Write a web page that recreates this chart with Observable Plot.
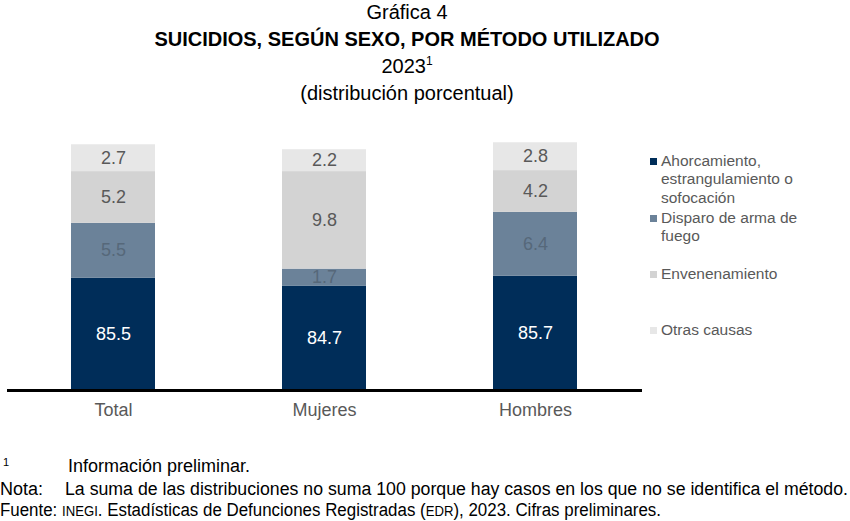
<!DOCTYPE html>
<html>
<head>
<meta charset="utf-8">
<script src="https://cdn.jsdelivr.net/npm/d3@7"></script>
<script src="https://cdn.jsdelivr.net/npm/@observablehq/plot@0.6"></script>
<style>
  html, body { margin: 0; padding: 0; background: #fff; }
  body { width: 850px; height: 521px; position: relative; overflow: hidden;
         font-family: "Liberation Sans", Arial, sans-serif; color: #000; }
  .t { position: absolute; left: 0; width: 814px; text-align: center; white-space: nowrap; }
  .leg { position: absolute; left: 650px; font-size: 15.5px; line-height: 18.3px; color: #595959; }
  .leg .sw { position: absolute; left: 0; top: 6px; width: 7px; height: 7px; }
  .leg .lb { position: absolute; left: 11px; white-space: nowrap; }
  .fn { position: absolute; left: 0; font-size: 18px; line-height: 20px; white-space: nowrap; color: #000; }
  .fit { display: inline-block; transform-origin: 0 50%; }
  #chart { position: absolute; left: 0; top: 120px; }
</style>
</head>
<body>
<div class="t" style="top:0px;font-size:20px;line-height:24px;">Gráfica 4</div>
<div class="t" style="top:27px;font-size:20px;line-height:24px;font-weight:bold;">SUICIDIOS, SEGÚN SEXO, POR MÉTODO UTILIZADO</div>
<div class="t" style="top:54px;font-size:20px;line-height:24px;">2023<sup style="font-size:12px;vertical-align:8px;line-height:0;">1</sup></div>
<div class="t" style="top:81px;font-size:20px;line-height:24px;">(distribución porcentual)</div>
<div id="chart"></div>
<div id="legend"></div>
<div class="fn" style="top:456px;"><span style="font-size:11px;position:absolute;left:3px;top:-4px;">1</span><span style="position:absolute;left:68px;">Información preliminar.</span></div>
<div class="fn" style="top:479px;">Nota:<span class="fit" id="fn2" style="position:absolute;left:65px;">La suma de las distribuciones no suma 100 porque hay casos en los que no se identifica el método.</span></div>
<div class="fn" style="top:500px;"><span class="fit" id="fn3">Fuente: <span style="font-size:14px;">INEGI</span>. Estadísticas de Defunciones Registradas (<span style="font-size:14px;">EDR</span>), 2023. Cifras preliminares.</span></div>
<script>
const categories = ["Total", "Mujeres", "Hombres"];
const methods = [
  "Ahorcamiento, estrangulamiento o sofocación",
  "Disparo de arma de fuego",
  "Envenenamiento",
  "Otras causas"
];
const ahorcamiento = [85.5, 84.7, 85.7];
const disparo = [5.5, 1.7, 6.4];
const envenenamiento = [5.2, 9.8, 4.2];
const otras = [2.7, 2.2, 2.8];

const colors = ["#002d59", "#6b8299", "#d3d3d3", "#e7e7e7"];
const labelColors = ["#ffffff", "#56687a", "#595959", "#595959"];
const legendLines = [
  ["Ahorcamiento,", "estrangulamiento o", "sofocación"],
  ["Disparo de arma de", "fuego"],
  ["Envenenamiento"],
  ["Otras causas"]
];
const legendTops = [152, 209, 265, 321];

const series = [ahorcamiento, disparo, envenenamiento, otras];
const yMin = 74.3;

const rows = [];
categories.forEach((c, i) => {
  let acc = 0;
  series.forEach((s, k) => {
    rows.push({sexo: c, metodo: methods[k], k, value: s[i], lo: acc, hi: acc + s[i]});
    acc += s[i];
  });
});

const chart = Plot.plot({
  width: 850,
  height: 320,
  marginTop: 13.3,
  marginBottom: 51,
  marginLeft: 7,
  marginRight: 208,
  style: {fontFamily: "'Liberation Sans', Arial, sans-serif", background: "#fff"},
  x: {domain: categories, paddingInner: 0.6, paddingOuter: 0.3, label: null},
  y: {domain: [yMin, 100], clamp: true, axis: null},
  color: {domain: methods, range: colors},
  marks: [
    Plot.barY(rows, {x: "sexo", y1: "lo", y2: "hi", fill: "metodo"}),
    Plot.text(rows, {
      x: "sexo",
      y: d => (Math.max(d.lo, yMin) + d.hi) / 2,
      text: d => d.value.toFixed(1),
      fill: d => labelColors[d.k],
      fontSize: 18
    }),
    Plot.ruleY([yMin], {stroke: "#000", strokeWidth: 3, dy: 1}),
    Plot.axisX({tickSize: 0, tickPadding: 14, fontSize: 18, fill: "#595959", label: null})
  ]
});
document.getElementById("chart").appendChild(chart);

const leg = document.getElementById("legend");
legendLines.forEach((lines, k) => {
  const item = document.createElement("div");
  item.className = "leg";
  item.style.top = legendTops[k] + "px";
  const sw = document.createElement("div");
  sw.className = "sw";
  sw.style.background = colors[k];
  item.appendChild(sw);
  const lb = document.createElement("div");
  lb.className = "lb";
  lb.innerHTML = lines.join("<br>");
  item.appendChild(lb);
  leg.appendChild(item);
});

function fitWidth(id, target) {
  const el = document.getElementById(id);
  const w = el.getBoundingClientRect().width;
  if (w > 0) el.style.transform = `scaleX(${target / w})`;
}
fitWidth("fn2", 783);
fitWidth("fn3", 661);
</script>
</body>
</html>
